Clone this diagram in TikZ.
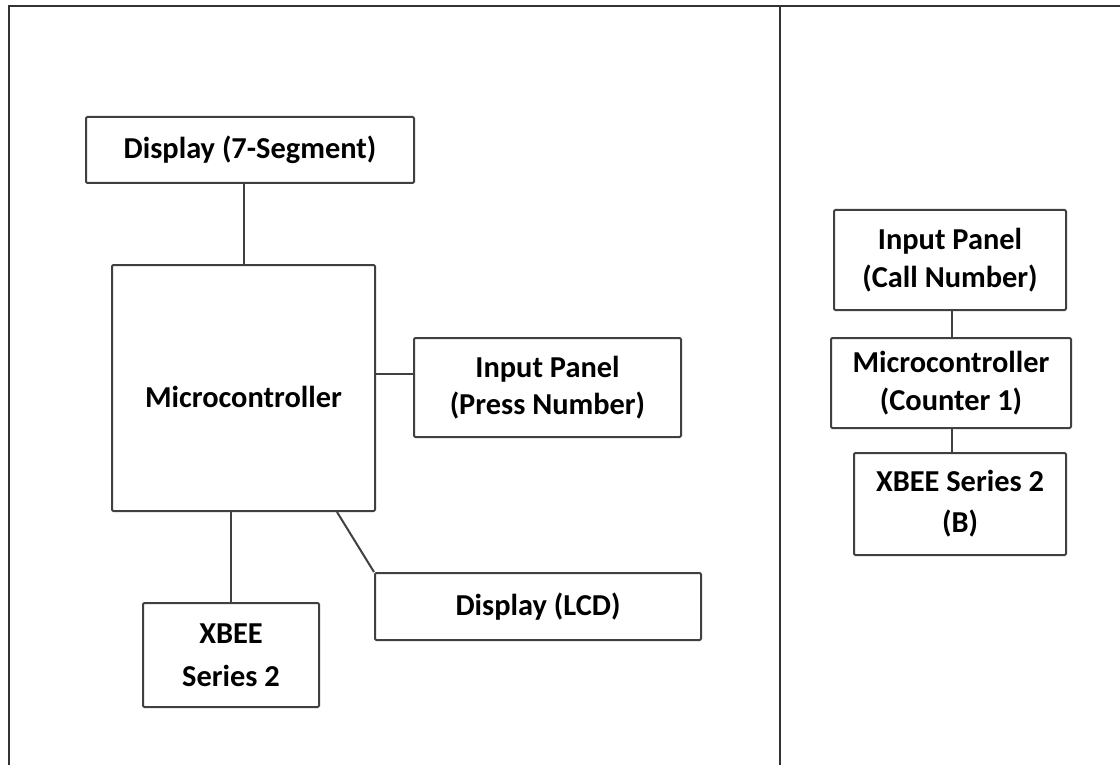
\documentclass[tikz,border=0pt]{standalone}
\usepackage{fontspec}
\setmainfont{Carlito}
\usetikzlibrary{positioning,calc}
\newcommand{\blockfont}{\fontsize{15.2}{18.75}\selectfont\bfseries}
\tikzstyle{block} = [rectangle, draw=black!75, line width=1pt, rounded corners=0.6pt, align=center, inner sep=0pt, font=\blockfont]
\tikzstyle{link}  = [draw=black!75, line width=1pt]
\tikzstyle{frame} = [draw=black!80, line width=1pt]

\begin{document}
\begin{tikzpicture}[x=0.5pt, y=-0.5pt]

    \useasboundingbox (0,0) rectangle (1120,765);

    % frame and divider
    \draw[frame] (9,765) -- (9,6) -- (1120,6);
    \draw[frame] (780,6) -- (780,765);

    % left side
    \node[block, minimum width=164pt, minimum height=33pt]   (disp7)   at (250,150)   {Display (7-Segment)};
    \node[block, minimum width=131.5pt, minimum height=123pt] (mcu)    at (243.5,388) {\raisebox{-4.5pt}[\height][\depth]{Microcontroller}};
    \node[block, minimum width=133.5pt, minimum height=49.5pt] (press) at (547.5,387.5) {Input Panel\\(Press Number)};
    \node[block, minimum width=163pt, minimum height=33.5pt] (lcd)     at (538,606.5) {Display (LCD)};
    \node[block, minimum width=88pt, minimum height=52pt]    (xbee)    at (231,655)   {XBEE\\[2.75pt]Series 2};

    % right side
    \node[block, minimum width=116pt, minimum height=50pt]   (call)    at (950,260)   {Input Panel\\(Call Number)};
    \node[block, minimum width=120pt, minimum height=45pt]   (counter) at (951,383)   {Microcontroller\\(Counter 1)};
    \node[block, minimum width=106pt, minimum height=51pt]   (xbeeb)   at (960,504)   {XBEE Series 2\\[1.75pt](B)};

    \path[link] (mcu.north) -- (mcu.north |- disp7.south);
    \path[link] ([yshift=7pt]mcu.east) -- ([yshift=7pt]mcu.east -| press.west);
    \path[link] (xbee.north) -- (xbee.north |- mcu.south);
    \path[link] ([xshift=-19.5pt]mcu.south east) -- (lcd.north west);

    \path[link] ([xshift=1pt]call.south) -- ([xshift=1pt]call.south |- counter.north);
    \path[link] ([xshift=0.5pt]counter.south) -- ([xshift=0.5pt]counter.south |- xbeeb.north);

\end{tikzpicture}
\end{document}
